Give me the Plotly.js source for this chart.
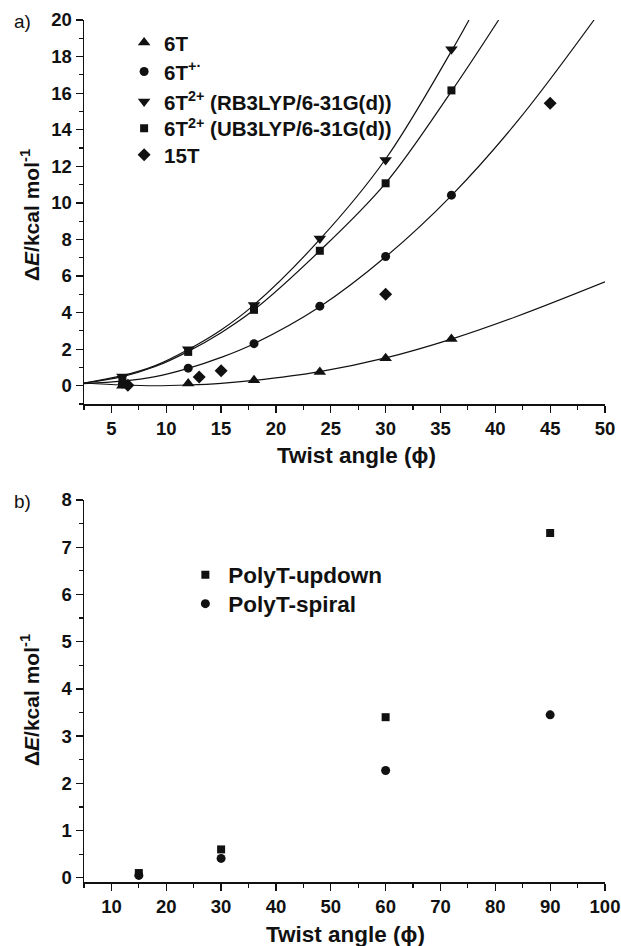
<!DOCTYPE html>
<html>
<head>
<meta charset="utf-8">
<script src="https://cdn.plot.ly/plotly-3.0.1.min.js"></script>
<style>html,body{margin:0;padding:0;background:#fff;}#chart{width:621px;height:946px;}</style>
</head>
<body>
<div id="chart"></div>
<script>
// ---- Panel a: data points ----
const x6T = [6, 12, 18, 24, 30, 36];
const y6T = [0.0, 0.12, 0.3, 0.75, 1.5, 2.55];
const x6Tcat = [6, 12, 18, 24, 30, 36];
const y6Tcat = [0.1, 0.96, 2.3, 4.35, 7.07, 10.42];
const x6TRB = [6, 12, 18, 24, 30, 36];
const y6TRB = [0.5, 2.0, 4.42, 8.05, 12.35, 18.4];
const x6TUB = [6, 12, 18, 24, 30, 36];
const y6TUB = [0.42, 1.85, 4.15, 7.38, 11.07, 16.15];
const x15T = [6.5, 13, 15, 30, 45];
const y15T = [0.03, 0.48, 0.82, 5.0, 15.45];

// ---- Panel a: fitted curves ----
const fit6Tx = [2.5, 6, 9, 12, 15, 18, 24, 30, 36, 42, 50];
const fit6Ty = [0.15, 0.04, 0.0, 0.04, 0.13, 0.29, 0.77, 1.52, 2.55, 3.8, 5.68];
const fitCatx = [2.5, 6, 9, 12, 15, 18, 24, 30, 36, 42, 49];
const fitCaty = [0.12, 0.25, 0.5, 0.95, 1.55, 2.3, 4.32, 7.05, 10.4, 14.45, 20];
const fitRBx = [2.5, 6, 9, 12, 15, 18, 24, 30, 36, 37.6];
const fitRBy = [0.15, 0.55, 1.1, 1.98, 3.05, 4.42, 8.0, 12.4, 18.3, 20];
const fitUBx = [2.5, 6, 9, 12, 15, 18, 24, 30, 36, 40.3];
const fitUBy = [0.15, 0.5, 1.05, 1.88, 2.9, 4.15, 7.38, 11.08, 16.1, 20];

// ---- Panel b ----
const xUpdown = [15, 30, 60, 90];
const yUpdown = [0.1, 0.6, 3.4, 7.3];
const xSpiral = [15, 30, 60, 90];
const ySpiral = [0.05, 0.41, 2.27, 3.45];

// ---- labels ----
const legendA = ['6T', '6T<sup>+·</sup>', '6T<sup>2+</sup> (RB3LYP/6-31G(d))', '6T<sup>2+</sup> (UB3LYP/6-31G(d))', '15T'];
const legendB = ['PolyT-updown', 'PolyT-spiral'];
const xTitle = 'Twist angle (ϕ)';
const yTitle = 'Δ<i>E</i>/kcal mol<sup>-1</sup>';

const FONT = 'Liberation Sans, Arial, sans-serif';
const blk = '#111';

function fitLine(x, y, xa, ya) {
  return {x: x, y: y, xaxis: xa, yaxis: ya, mode: 'lines', type: 'scatter',
    line: {color: blk, width: 1.2, shape: 'spline', smoothing: 1}, showlegend: false, hoverinfo: 'skip'};
}
function pts(x, y, name, sym, size, xa, ya, leg) {
  return {x: x, y: y, xaxis: xa, yaxis: ya, mode: 'markers', type: 'scatter', name: name,
    marker: {symbol: sym, size: size, color: blk}, legend: leg};
}

const traces = [
  fitLine(fit6Tx, fit6Ty, 'x', 'y'),
  fitLine(fitCatx, fitCaty, 'x', 'y'),
  fitLine(fitRBx, fitRBy, 'x', 'y'),
  fitLine(fitUBx, fitUBy, 'x', 'y'),
  pts(x6T, y6T, legendA[0], 'triangle-up', 11, 'x', 'y', 'legend'),
  pts(x6Tcat, y6Tcat, legendA[1], 'circle', 9, 'x', 'y', 'legend3'),
  pts(x6TRB, y6TRB, legendA[2], 'triangle-down', 11, 'x', 'y', 'legend4'),
  pts(x6TUB, y6TUB, legendA[3], 'square', 8, 'x', 'y', 'legend5'),
  pts(x15T, y15T, legendA[4], 'diamond', 10, 'x', 'y', 'legend6'),
  pts(xUpdown, yUpdown, legendB[0], 'square', 8, 'x2', 'y2', 'legend2'),
  pts(xSpiral, ySpiral, legendB[1], 'circle', 9, 'x2', 'y2', 'legend7')
];

const tickFont = {family: FONT, size: 18.5, color: blk, weight: 'bold'};
function axis(extra) {
  return Object.assign({
    showline: true, linecolor: blk, linewidth: 1.5, mirror: false,
    showgrid: false, zeroline: false, ticks: 'outside', ticklen: 7, tickwidth: 1.3, tickcolor: blk,
    tickfont: tickFont, fixedrange: true
  }, extra);
}
function py(p) { return (882 - p) / 862; }
function leg(xp, ypx, size, iw) {
  return {x: xp, y: py(ypx), xanchor: 'left', yanchor: 'middle', bgcolor: 'rgba(0,0,0,0)',
    font: {family: FONT, size: size, color: blk, weight: 'bold'}, itemwidth: iw,
    itemclick: false, itemdoubleclick: false};
}

const layout = {
  width: 621, height: 946,
  margin: {l: 84, r: 16, t: 20, b: 64},
  paper_bgcolor: '#fff', plot_bgcolor: '#fff',
  font: {family: FONT, color: blk},
  showlegend: true,
  xaxis: axis({domain: [0, 1], range: [2.5, 50], dtick: 5, tick0: 0, anchor: 'y',
    minor: {dtick: 2.5, ticklen: 4, tickwidth: 1.2, ticks: 'outside', tickcolor: blk}}),
  yaxis: axis({domain: [0.5545, 1], range: [-1, 20], dtick: 2, tick0: 0, anchor: 'x',
    minor: {dtick: 1, ticklen: 4, tickwidth: 1.2, ticks: 'outside', tickcolor: blk}}),
  xaxis2: axis({domain: [0, 1], range: [5, 100], dtick: 10, tick0: 0, anchor: 'y2',
    minor: {dtick: 5, ticklen: 4, tickwidth: 1.2, ticks: 'outside', tickcolor: blk}}),
  yaxis2: axis({domain: [0, 0.4432], range: [-0.09, 8], dtick: 1, tick0: 0, anchor: 'x2',
    minor: {dtick: 0.5, ticklen: 4, tickwidth: 1.2, ticks: 'outside', tickcolor: blk}}),
  legend: leg(0.077, 42.7, 20.5, 30),
  legend3: leg(0.077, 71.7, 20.5, 30),
  legend4: leg(0.077, 101.7, 20.5, 30),
  legend5: leg(0.077, 128.3, 20.5, 30),
  legend6: leg(0.077, 155, 20.5, 30),
  legend2: leg(0.1888, 575, 22.5, 36),
  legend7: leg(0.1888, 604, 22.5, 36),
  annotations: [
    {text: 'a)', xref: 'paper', yref: 'paper', x: -0.118, y: py(21.5), xanchor: 'center', yanchor: 'middle',
      showarrow: false, font: {family: FONT, size: 19, color: blk}},
    {text: 'b)', xref: 'paper', yref: 'paper', x: -0.118, y: py(501), xanchor: 'center', yanchor: 'middle',
      showarrow: false, font: {family: FONT, size: 19, color: blk}},
    {text: xTitle, xref: 'paper', yref: 'paper', x: (356 - 84) / 521, y: py(455), xanchor: 'center', yanchor: 'middle',
      showarrow: false, font: {family: FONT, size: 22.5, color: blk, weight: 'bold'}},
    {text: xTitle, xref: 'paper', yref: 'paper', x: (345 - 84) / 521, y: py(935), xanchor: 'center', yanchor: 'middle',
      showarrow: false, font: {family: FONT, size: 22.5, color: blk, weight: 'bold'}},
    {text: yTitle, xref: 'paper', yref: 'paper', x: (30 - 84) / 521, y: py(215), xanchor: 'center', yanchor: 'middle',
      textangle: -90, showarrow: false, font: {family: FONT, size: 21, color: blk, weight: 'bold'}},
    {text: yTitle, xref: 'paper', yref: 'paper', x: (30 - 84) / 521, y: py(700), xanchor: 'center', yanchor: 'middle',
      textangle: -90, showarrow: false, font: {family: FONT, size: 21, color: blk, weight: 'bold'}}
  ]
};

Plotly.newPlot('chart', traces, layout, {displayModeBar: false, staticPlot: true});
</script>
</body>
</html>
